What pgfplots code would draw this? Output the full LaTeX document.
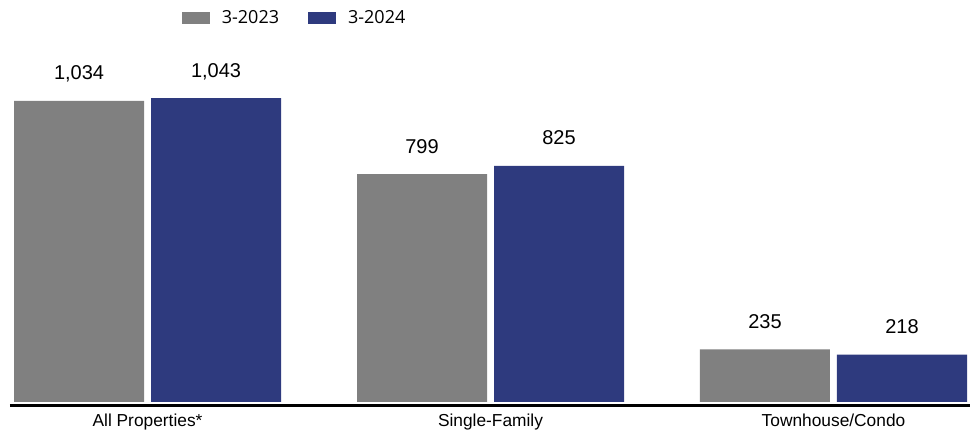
\documentclass[border=0pt]{standalone}
\usepackage{fontspec}
\setmainfont{Liberation Sans}
\newfontfamily\legendfont{Open Sans}
\usepackage{pgfplots}
\pgfplotsset{compat=1.18}

\definecolor{bargray}{HTML}{808080}
\definecolor{barnavy}{HTML}{2E3A7E}

\begin{document}
\begin{tikzpicture}
\begin{axis}[
    ybar,
    scale only axis,
    width=720pt, height=301.5pt,
    xmin=-0.401, xmax=2.398,
    ymin=66, ymax=1358.6,
    axis x line*=bottom,
    x axis line style={black, line width=2.25pt, yshift=-2.85pt, -},
    hide y axis,
    xtick={0,1,2},
    xticklabels={All Properties*, Single-Family, Townhouse/Condo},
    major tick length=0pt,
    xticklabel style={font=\fontsize{13}{15}\selectfont, anchor=base, yshift=-18.75pt},
    bar width=97.5pt,
    /pgf/number format/assume math mode=true,
    /pgf/number format/1000 sep={,},
    nodes near coords,
    every node near coord/.append style={font=\fontsize{15}{17}\selectfont, anchor=base, inner sep=0pt, yshift=15.75pt},
    legend columns=2,
    legend style={draw=none, fill=none, inner sep=0pt, outer sep=0pt,
        at={(0.179,0.955)}, anchor=west,
        font=\legendfont\fontsize{13.5}{15}\selectfont,
        nodes={inner sep=0pt}},
    legend image code/.code={\fill[#1] (0pt,-4.35pt) rectangle (21pt,4.35pt);},
    /tikz/every odd column/.append style={column sep=9pt},
    /tikz/every even column/.append style={column sep=21.75pt},
]
\addplot[fill=bargray, draw=none, bar shift=-51.375pt]
    coordinates {(0,1034) (1,799) (2,235)};
\addlegendentry{3-2023}
\addplot[fill=barnavy, draw=none, bar shift=51.375pt]
    coordinates {(0,1043) (1,825) (2,218)};
\addlegendentry{3-2024}
\end{axis}
\pgfresetboundingbox
\path[use as bounding box] (-7.5pt,-24.75pt) rectangle (721.5pt,301.5pt);
\end{tikzpicture}
\end{document}
